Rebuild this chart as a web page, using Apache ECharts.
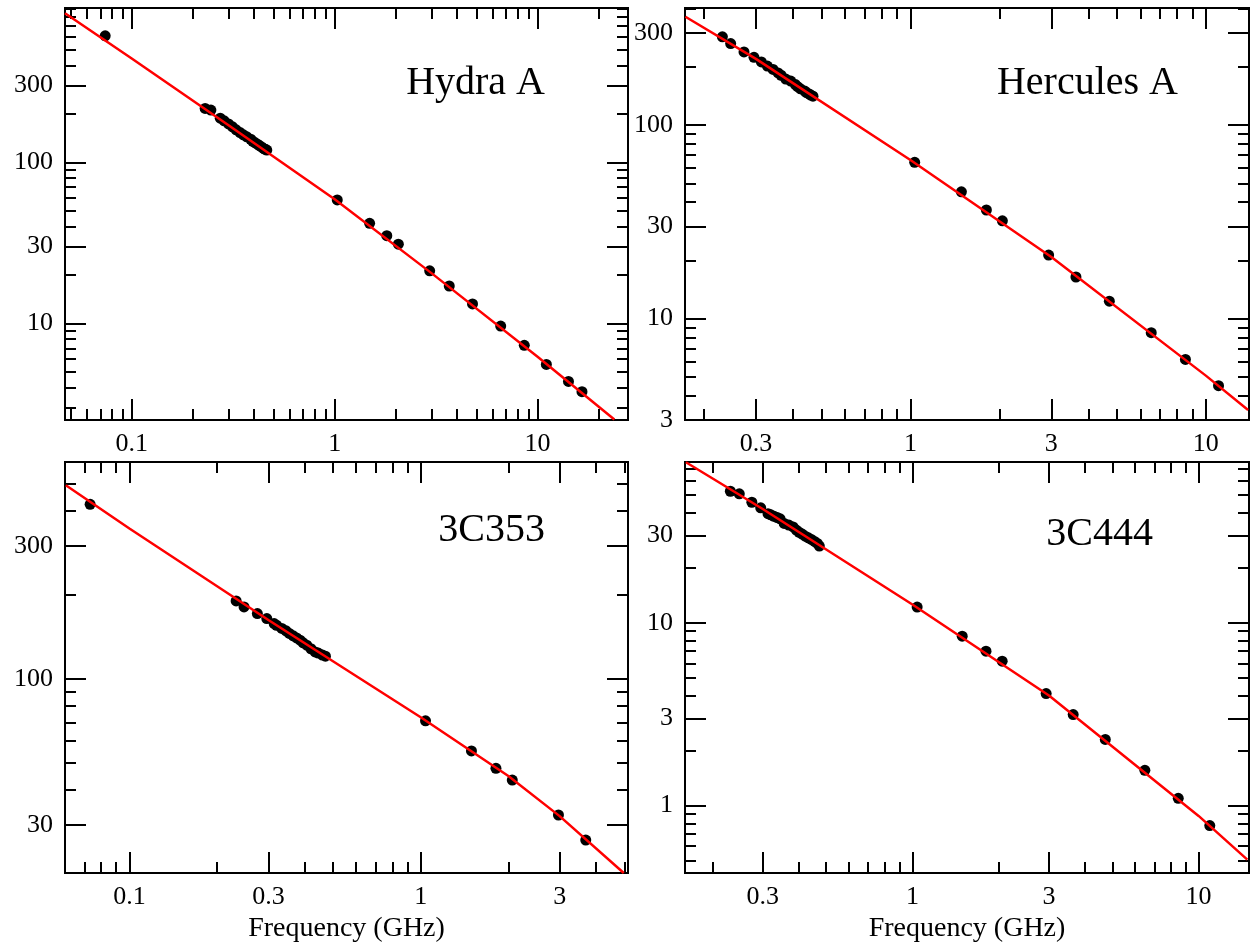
<!DOCTYPE html>
<html>
<head>
<meta charset="utf-8">
<title>Radio spectra</title>
<script src="https://cdn.jsdelivr.net/npm/echarts@6/dist/echarts.min.js"></script>
<style>
  html, body { margin: 0; padding: 0; background: #fff; }
  #container { width: 1252px; height: 944px; }
</style>
</head>
<body>
<div id="container"></div>
<script>
// ---- Hydra A ----
var hydraFreq = [0.074, 0.230, 0.2455, 0.273, 0.2855, 0.300, 0.3138, 0.327, 0.342, 0.355, 0.369, 0.386, 0.395, 0.406, 0.416, 0.426, 0.436, 0.446, 0.455, 0.463,
                 1.03, 1.487, 1.807, 2.06, 2.94, 3.67, 4.78, 6.58, 8.6, 11.05, 14.2, 16.55];
var hydraFlux = [610, 216, 211, 188, 181, 173, 166, 159, 153, 148, 144, 139, 135, 132, 129.5, 127, 124.5, 122, 120.5, 119,
                 58.4, 41.8, 35.0, 31.0, 21.2, 17.05, 13.2, 9.62, 7.3, 5.56, 4.36, 3.76];
var hydraFitFreq = [0.0469, 0.1, 0.3, 1, 3, 10, 23.9];
var hydraFitFlux = [842, 441, 170, 59, 20.5, 6.2, 2.53];

// ---- Hercules A ----
var hercFreq = [0.231, 0.2464, 0.2734, 0.2955, 0.313, 0.328, 0.343, 0.3566, 0.365, 0.3786, 0.3936, 0.4083, 0.415, 0.4246, 0.4389, 0.445, 0.4538, 0.46, 0.468,
                1.034, 1.488, 1.808, 2.048, 2.937, 3.634, 4.714, 6.534, 8.53, 11.04];
var hercFlux = [286, 264, 239, 224, 212, 202, 194, 186, 181, 173, 169, 162, 158, 154, 150, 147, 145, 143, 141,
                64.2, 45.2, 36.4, 32.0, 21.3, 16.4, 12.3, 8.45, 6.15, 4.5];
var hercFitFreq = [0.1732, 0.3, 1, 3, 10, 13.9];
var hercFitFlux = [363, 220, 66, 20.8, 5.07, 3.37];

// ---- 3C353 ----
var c353Freq = [0.0733, 0.2325, 0.2475, 0.275, 0.2963, 0.314, 0.32, 0.3336, 0.345, 0.354, 0.365, 0.375, 0.3855, 0.395, 0.4064, 0.42, 0.434, 0.445, 0.46, 0.471,
                1.039, 1.494, 1.813, 2.063, 2.972, 3.688];
var c353Flux = [423, 190.6, 181.5, 171.8, 164.9, 158.2, 156, 151.9, 149, 145.8, 143, 140.5, 137.9, 135, 132.3, 128.5, 125.2, 124, 122, 120.9,
                70.9, 55.3, 47.9, 43.5, 32.6, 26.5];
var c353FitFreq = [0.0605, 0.1, 0.3, 1, 2, 3, 4.98];
var c353FitFlux = [495, 346.5, 163, 73, 45, 32.3, 20.2];

// ---- 3C444 ----
var c444Freq = [0.2312, 0.2484, 0.2748, 0.2951, 0.313, 0.32, 0.3285, 0.337, 0.345, 0.3565, 0.37, 0.383, 0.393, 0.4022, 0.412, 0.4221, 0.433, 0.4434, 0.455, 0.4656, 0.473,
                1.039, 1.493, 1.808, 2.059, 2.933, 3.646, 4.72, 6.49, 8.49, 10.94];
var c444Flux = [52.5, 50.8, 45.7, 42.6, 39.6, 39, 38.3, 37.7, 37.1, 35.0, 34.3, 33.5, 32.2, 31.3, 30.6, 29.8, 29.2, 28.6, 27.9, 27.2, 26.3,
                12.2, 8.45, 7.0, 6.17, 4.10, 3.15, 2.30, 1.56, 1.096, 0.777];
var c444FitFreq = [0.1617, 0.3, 1, 3, 10, 14.8];
var c444FitFlux = [75.7, 42, 12.6, 4.0, 0.878, 0.506];

// ---- tick values (major ticks carry the labels) ----
var hydraXMajor = [0.1, 1, 10];
var hydraXMinor = [0.05, 0.06, 0.07, 0.08, 0.09, 0.2, 0.3, 0.4, 0.5, 0.6, 0.7, 0.8, 0.9, 2, 3, 4, 5, 6, 7, 8, 9, 20];
var hydraYMajor = [10, 30, 100, 300];
var hydraYMinor = [3, 4, 5, 6, 7, 8, 9, 20, 40, 50, 60, 70, 80, 90, 200, 400, 500, 600, 700, 800, 900];

var hercXMajor = [0.3, 1, 3, 10];
var hercXMinor = [0.2, 0.4, 0.5, 0.6, 0.7, 0.8, 0.9, 2, 4, 5, 6, 7, 8, 9];
var hercYMajor = [3, 10, 30, 100, 300];
var hercYMinor = [4, 5, 6, 7, 8, 9, 20, 40, 50, 60, 70, 80, 90, 200, 400];

var c353XMajor = [0.1, 0.3, 1, 3];
var c353XMinor = [0.07, 0.08, 0.09, 0.2, 0.4, 0.5, 0.6, 0.7, 0.8, 0.9, 2, 4, 5];
var c353YMajor = [30, 100, 300];
var c353YMinor = [40, 50, 60, 70, 80, 90, 200, 400, 500];

var c444XMajor = [0.3, 1, 3, 10];
var c444XMinor = [0.2, 0.4, 0.5, 0.6, 0.7, 0.8, 0.9, 2, 4, 5, 6, 7, 8, 9];
var c444YMajor = [1, 3, 10, 30];
var c444YMinor = [0.5, 0.6, 0.7, 0.8, 0.9, 2, 4, 5, 6, 7, 8, 9, 20, 40, 50, 60, 70];

var xName = 'Frequency (GHz)';
var fontName = 'Liberation Serif';

function zip(a, b) {
    var out = [];
    for (var i = 0; i < a.length; i++) out.push([a[i], b[i]]);
    return out;
}

var panels = [
    {title: 'Hydra A', tx: 545, ty: 83, left: 65, top: 8, width: 563, height: 412,
     xMin: 0.0469, xMax: 27.9, yMin: 2.51, yMax: 908, name: '',
     xMajor: hydraXMajor, xMinor: hydraXMinor, yMajor: hydraYMajor, yMinor: hydraYMinor,
     freq: hydraFreq, flux: hydraFlux, fitFreq: hydraFitFreq, fitFlux: hydraFitFlux},
    {title: 'Hercules A', tx: 1178, ty: 83, left: 685, top: 8, width: 564, height: 412,
     xMin: 0.1726, xMax: 14.0, yMin: 2.99, yMax: 403, name: '',
     xMajor: hercXMajor, xMinor: hercXMinor, yMajor: hercYMajor, yMinor: hercYMinor,
     freq: hercFreq, flux: hercFlux, fitFreq: hercFitFreq, fitFlux: hercFitFlux},
    {title: '3C353', tx: 545, ty: 530, left: 65, top: 462, width: 563, height: 411,
     xMin: 0.0601, xMax: 5.15, yMin: 20.2, yMax: 600, name: xName,
     xMajor: c353XMajor, xMinor: c353XMinor, yMajor: c353YMajor, yMinor: c353YMinor,
     freq: c353Freq, flux: c353Flux, fitFreq: c353FitFreq, fitFlux: c353FitFlux},
    {title: '3C444', tx: 1153, ty: 534, left: 685, top: 462, width: 564, height: 411,
     xMin: 0.1605, xMax: 15.0, yMin: 0.4276, yMax: 75.9, name: xName,
     xMajor: c444XMajor, xMinor: c444XMinor, yMajor: c444YMajor, yMinor: c444YMinor,
     freq: c444Freq, flux: c444Flux, fitFreq: c444FitFreq, fitFlux: c444FitFlux}
];

function labelText(v) {
    return String(+(+v).toPrecision(6));
}

function makeAxis(gridIndex, pos, min, max, ticks, len, showLabel, name) {
    var isX = (pos === 'bottom' || pos === 'top');
    return {
        type: 'log',
        logBase: 10,
        gridIndex: gridIndex,
        position: pos,
        min: min,
        max: max,
        axisLine: {show: false, onZero: false},
        splitLine: {show: false},
        minorTick: {show: false},
        axisTick: {
            show: true, inside: true, length: len, customValues: ticks,
            lineStyle: {color: '#000', width: 2}
        },
        axisLabel: {
            show: showLabel, customValues: ticks, margin: isX ? 11 : 12,
            color: '#000', fontFamily: fontName, fontSize: 26,
            hideOverlap: false, formatter: labelText
        },
        name: name || '',
        nameLocation: 'middle',
        nameGap: 42,
        nameTextStyle: {color: '#000', fontFamily: fontName, fontSize: 28}
    };
}

var grids = [], xAxes = [], yAxes = [], seriesList = [], texts = [];

for (var i = 0; i < panels.length; i++) {
    var p = panels[i];
    grids.push({
        left: p.left, top: p.top, width: p.width, height: p.height,
        show: true, borderColor: '#000', borderWidth: 2,
        backgroundColor: 'transparent', containLabel: false, outerBoundsMode: 'none'
    });
    var xIdx = xAxes.length;
    var yIdx = yAxes.length;
    xAxes.push(makeAxis(i, 'bottom', p.xMin, p.xMax, p.xMajor, 21, true, p.name));
    xAxes.push(makeAxis(i, 'bottom', p.xMin, p.xMax, p.xMinor, 11, false));
    xAxes.push(makeAxis(i, 'top', p.xMin, p.xMax, p.xMajor, 21, false));
    xAxes.push(makeAxis(i, 'top', p.xMin, p.xMax, p.xMinor, 11, false));
    yAxes.push(makeAxis(i, 'left', p.yMin, p.yMax, p.yMajor, 21, true));
    yAxes.push(makeAxis(i, 'left', p.yMin, p.yMax, p.yMinor, 11, false));
    yAxes.push(makeAxis(i, 'right', p.yMin, p.yMax, p.yMajor, 21, false));
    yAxes.push(makeAxis(i, 'right', p.yMin, p.yMax, p.yMinor, 11, false));

    seriesList.push({
        name: p.title + ' data',
        type: 'scatter',
        xAxisIndex: xIdx,
        yAxisIndex: yIdx,
        symbol: 'circle',
        symbolSize: 11,
        itemStyle: {color: '#000', opacity: 1},
        data: zip(p.freq, p.flux),
        z: 2
    });
    seriesList.push({
        name: p.title + ' fit',
        type: 'line',
        xAxisIndex: xIdx,
        yAxisIndex: yIdx,
        showSymbol: false,
        symbol: 'none',
        smooth: false,
        clip: true,
        lineStyle: {color: '#ff0000', width: 2.5},
        data: zip(p.fitFreq, p.fitFlux),
        z: 3
    });
    texts.push({
        type: 'text',
        x: p.tx,
        y: p.ty,
        style: {
            text: p.title, align: 'right', verticalAlign: 'middle',
            fontSize: 40, fontFamily: fontName, fill: '#000'
        }
    });
}

var dom = document.getElementById('container');
var myChart = echarts.init(dom, null, {renderer: 'canvas'});
var option = {
    animation: false,
    backgroundColor: '#fff',
    grid: grids,
    xAxis: xAxes,
    yAxis: yAxes,
    series: seriesList,
    graphic: texts
};

if (option && typeof option === 'object') {
    myChart.setOption(option);
}
</script>
</body>
</html>
